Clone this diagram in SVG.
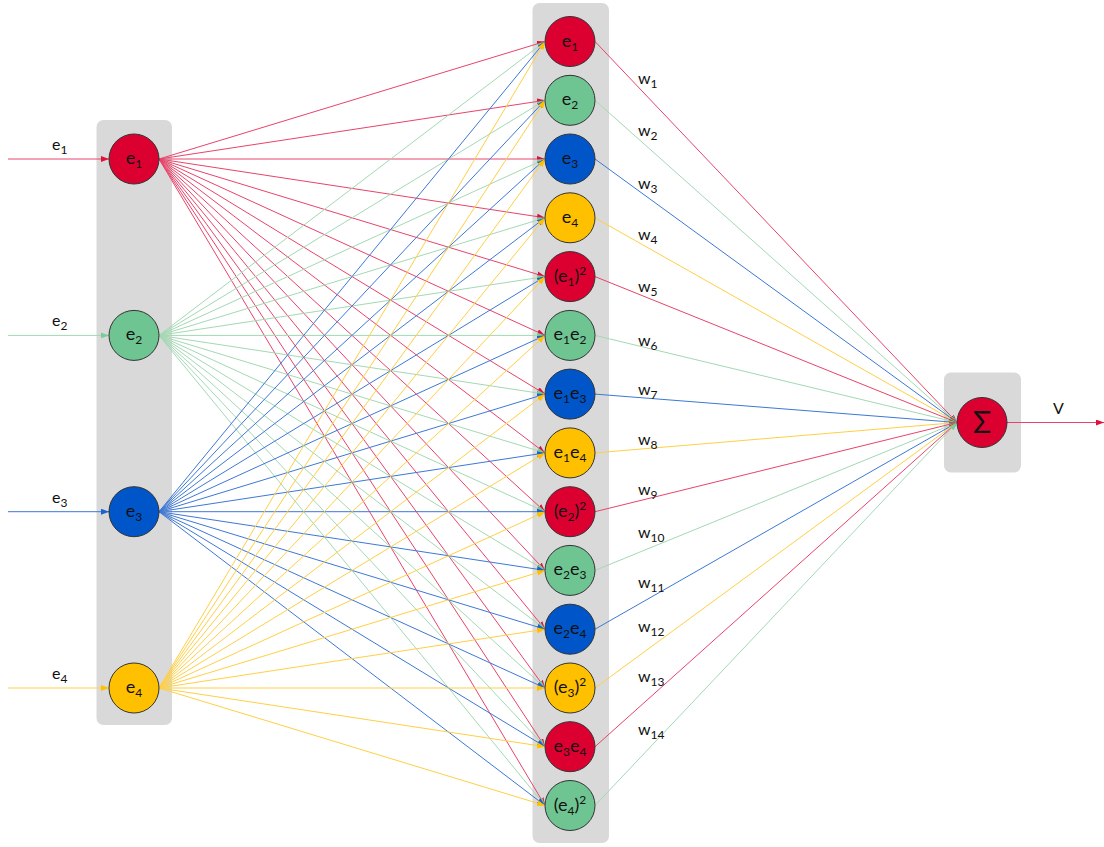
<svg xmlns="http://www.w3.org/2000/svg" width="1104" height="847" viewBox="0 0 1104 847">
  <style>
    text { font-family: Lato, "Open Sans", "Liberation Sans", sans-serif; fill: #111; }
    .box { fill: #D9D9D9; }
    .node { stroke: #333; stroke-width: 1; }
    .fr { fill: #DC0031; }
    .fg { fill: #6EC592; }
    .fb { fill: #0055C8; }
    .fy { fill: #FFC000; }
    .l { fill: none; stroke-width: 1; }
    .lr { stroke: #E8446A; marker-end: url(#ar); }
    .lg { stroke: #A3D9B3; marker-end: url(#ag); }
    .lb { stroke: #3D78D6; marker-end: url(#ab); }
    .ly { stroke: #FFCF45; marker-end: url(#ay); }
    .nl { font-size: 18px; text-anchor: middle; }
    .wl { font-size: 16px; }
    .sub { font-size: 12px; }
  </style>
  <defs>
    <marker id="ar" markerUnits="userSpaceOnUse" markerWidth="8" markerHeight="6" refX="8" refY="3" orient="auto"><path d="M0,0 L8,3 L0,6 z" fill="#E0103C"/></marker>
    <marker id="ag" markerUnits="userSpaceOnUse" markerWidth="8" markerHeight="6" refX="8" refY="3" orient="auto"><path d="M0,0 L8,3 L0,6 z" fill="#7CCB9A"/></marker>
    <marker id="ab" markerUnits="userSpaceOnUse" markerWidth="8" markerHeight="6" refX="8" refY="3" orient="auto"><path d="M0,0 L8,3 L0,6 z" fill="#1A62CF"/></marker>
    <marker id="ay" markerUnits="userSpaceOnUse" markerWidth="8" markerHeight="6" refX="8" refY="3" orient="auto"><path d="M0,0 L8,3 L0,6 z" fill="#FFC000"/></marker>
  </defs>

  <!-- layer containers -->
  <rect class="box" x="96.5" y="120" width="75.5" height="605" rx="7"/>
  <rect class="box" x="532.5" y="3" width="76.5" height="840" rx="7"/>
  <rect class="box" x="944" y="372.5" width="77" height="100" rx="7"/>

  <g id="connectors">
    <!-- inputs -->
    <line class="l lr" x1="8" y1="159" x2="109" y2="159"/>
    <line class="l lg" x1="8" y1="335.4" x2="109" y2="335.4"/>
    <line class="l lb" x1="8" y1="511.7" x2="109" y2="511.7"/>
    <line class="l ly" x1="8" y1="688" x2="109" y2="688"/>

    <!-- e1 to every product node -->
    <g class="l lr">
      <line x1="159" y1="159" x2="545" y2="41.5"/>
      <line x1="159" y1="159" x2="545" y2="100.3"/>
      <line x1="159" y1="159" x2="545" y2="159"/>
      <line x1="159" y1="159" x2="545" y2="217.8"/>
      <line x1="159" y1="159" x2="545" y2="276.6"/>
      <line x1="159" y1="159" x2="545" y2="335.4"/>
      <line x1="159" y1="159" x2="545" y2="394.1"/>
      <line x1="159" y1="159" x2="545" y2="452.9"/>
      <line x1="159" y1="159" x2="545" y2="511.7"/>
      <line x1="159" y1="159" x2="545" y2="570.4"/>
      <line x1="159" y1="159" x2="545" y2="629.2"/>
      <line x1="159" y1="159" x2="545" y2="688"/>
      <line x1="159" y1="159" x2="545" y2="746.7"/>
      <line x1="159" y1="159" x2="545" y2="805.5"/>
    </g>
    <!-- e2 -->
    <g class="l lg">
      <line x1="159" y1="335.4" x2="545" y2="41.5"/>
      <line x1="159" y1="335.4" x2="545" y2="100.3"/>
      <line x1="159" y1="335.4" x2="545" y2="159"/>
      <line x1="159" y1="335.4" x2="545" y2="217.8"/>
      <line x1="159" y1="335.4" x2="545" y2="276.6"/>
      <line x1="159" y1="335.4" x2="545" y2="335.4"/>
      <line x1="159" y1="335.4" x2="545" y2="394.1"/>
      <line x1="159" y1="335.4" x2="545" y2="452.9"/>
      <line x1="159" y1="335.4" x2="545" y2="511.7"/>
      <line x1="159" y1="335.4" x2="545" y2="570.4"/>
      <line x1="159" y1="335.4" x2="545" y2="629.2"/>
      <line x1="159" y1="335.4" x2="545" y2="688"/>
      <line x1="159" y1="335.4" x2="545" y2="746.7"/>
      <line x1="159" y1="335.4" x2="545" y2="805.5"/>
    </g>
    <!-- e3 -->
    <g class="l lb">
      <line x1="159" y1="511.7" x2="545" y2="41.5"/>
      <line x1="159" y1="511.7" x2="545" y2="100.3"/>
      <line x1="159" y1="511.7" x2="545" y2="159"/>
      <line x1="159" y1="511.7" x2="545" y2="217.8"/>
      <line x1="159" y1="511.7" x2="545" y2="276.6"/>
      <line x1="159" y1="511.7" x2="545" y2="335.4"/>
      <line x1="159" y1="511.7" x2="545" y2="394.1"/>
      <line x1="159" y1="511.7" x2="545" y2="452.9"/>
      <line x1="159" y1="511.7" x2="545" y2="511.7"/>
      <line x1="159" y1="511.7" x2="545" y2="570.4"/>
      <line x1="159" y1="511.7" x2="545" y2="629.2"/>
      <line x1="159" y1="511.7" x2="545" y2="688"/>
      <line x1="159" y1="511.7" x2="545" y2="746.7"/>
      <line x1="159" y1="511.7" x2="545" y2="805.5"/>
    </g>
    <!-- e4 -->
    <g class="l ly">
      <line x1="159" y1="688" x2="545" y2="41.5"/>
      <line x1="159" y1="688" x2="545" y2="100.3"/>
      <line x1="159" y1="688" x2="545" y2="159"/>
      <line x1="159" y1="688" x2="545" y2="217.8"/>
      <line x1="159" y1="688" x2="545" y2="276.6"/>
      <line x1="159" y1="688" x2="545" y2="335.4"/>
      <line x1="159" y1="688" x2="545" y2="394.1"/>
      <line x1="159" y1="688" x2="545" y2="452.9"/>
      <line x1="159" y1="688" x2="545" y2="511.7"/>
      <line x1="159" y1="688" x2="545" y2="570.4"/>
      <line x1="159" y1="688" x2="545" y2="629.2"/>
      <line x1="159" y1="688" x2="545" y2="688"/>
      <line x1="159" y1="688" x2="545" y2="746.7"/>
      <line x1="159" y1="688" x2="545" y2="805.5"/>
    </g>

    <!-- weighted terms into the sum -->
    <line class="l lr" x1="595" y1="41.5" x2="957" y2="422.5"/>
    <line class="l lg" x1="595" y1="100.3" x2="957" y2="422.5"/>
    <line class="l lb" x1="595" y1="159" x2="957" y2="422.5"/>
    <line class="l ly" x1="595" y1="217.8" x2="957" y2="422.5"/>
    <line class="l lr" x1="595" y1="276.6" x2="957" y2="422.5"/>
    <line class="l lg" x1="595" y1="335.4" x2="957" y2="422.5"/>
    <line class="l lb" x1="595" y1="394.1" x2="957" y2="422.5"/>
    <line class="l ly" x1="595" y1="452.9" x2="957" y2="422.5"/>
    <line class="l lr" x1="595" y1="511.7" x2="957" y2="422.5"/>
    <line class="l lg" x1="595" y1="570.4" x2="957" y2="422.5"/>
    <line class="l lb" x1="595" y1="629.2" x2="957" y2="422.5"/>
    <line class="l ly" x1="595" y1="688" x2="957" y2="422.5"/>
    <line class="l lr" x1="595" y1="746.7" x2="957" y2="422.5"/>
    <line class="l lg" x1="595" y1="805.5" x2="957" y2="422.5"/>

    <!-- output -->
    <line class="l lr" x1="1007" y1="422.5" x2="1104" y2="422.5"/>
  </g>

  <!-- edge labels -->
  <g id="labels">
    <text class="wl" x="52" y="150">e<tspan class="sub" dy="4">1</tspan></text>
    <text class="wl" x="52" y="326">e<tspan class="sub" dy="4">2</tspan></text>
    <text class="wl" x="52" y="503">e<tspan class="sub" dy="4">3</tspan></text>
    <text class="wl" x="52" y="679">e<tspan class="sub" dy="4">4</tspan></text>
    <text class="wl" x="638" y="84">w<tspan class="sub" dy="4">1</tspan></text>
    <text class="wl" x="638" y="136">w<tspan class="sub" dy="4">2</tspan></text>
    <text class="wl" x="638" y="189">w<tspan class="sub" dy="4">3</tspan></text>
    <text class="wl" x="638" y="240">w<tspan class="sub" dy="4">4</tspan></text>
    <text class="wl" x="638" y="292">w<tspan class="sub" dy="4">5</tspan></text>
    <text class="wl" x="638" y="346">w<tspan class="sub" dy="4">6</tspan></text>
    <text class="wl" x="638" y="395">w<tspan class="sub" dy="4">7</tspan></text>
    <text class="wl" x="638" y="445">w<tspan class="sub" dy="4">8</tspan></text>
    <text class="wl" x="638" y="495">w<tspan class="sub" dy="4">9</tspan></text>
    <text class="wl" x="638" y="538">w<tspan class="sub" dy="4">10</tspan></text>
    <text class="wl" x="638" y="588">w<tspan class="sub" dy="4">11</tspan></text>
    <text class="wl" x="638" y="632">w<tspan class="sub" dy="4">12</tspan></text>
    <text class="wl" x="638" y="682">w<tspan class="sub" dy="4">13</tspan></text>
    <text class="wl" x="638" y="735">w<tspan class="sub" dy="4">14</tspan></text>
    <text class="wl" x="1053" y="414">V</text>
  </g>

  <!-- input layer -->
  <g id="in-e1"><circle class="node fr" cx="134" cy="159" r="25"/><text class="nl" x="134" y="164">e<tspan class="sub" dy="4">1</tspan></text></g>
  <g id="in-e2"><circle class="node fg" cx="134" cy="335.4" r="25"/><text class="nl" x="134" y="340.4">e<tspan class="sub" dy="4">2</tspan></text></g>
  <g id="in-e3"><circle class="node fb" cx="134" cy="511.7" r="25"/><text class="nl" x="134" y="516.7">e<tspan class="sub" dy="4">3</tspan></text></g>
  <g id="in-e4"><circle class="node fy" cx="134" cy="688" r="25"/><text class="nl" x="134" y="693">e<tspan class="sub" dy="4">4</tspan></text></g>

  <!-- polynomial terms -->
  <g id="t-e1"><circle class="node fr" cx="570" cy="41.5" r="25"/><text class="nl" x="570" y="46.5">e<tspan class="sub" dy="4">1</tspan></text></g>
  <g id="t-e2"><circle class="node fg" cx="570" cy="100.3" r="25"/><text class="nl" x="570" y="105.3">e<tspan class="sub" dy="4">2</tspan></text></g>
  <g id="t-e3"><circle class="node fb" cx="570" cy="159" r="25"/><text class="nl" x="570" y="164">e<tspan class="sub" dy="4">3</tspan></text></g>
  <g id="t-e4"><circle class="node fy" cx="570" cy="217.8" r="25"/><text class="nl" x="570" y="222.8">e<tspan class="sub" dy="4">4</tspan></text></g>
  <g id="t-e1sq"><circle class="node fr" cx="570" cy="276.6" r="25"/><text class="nl" x="570" y="281.6">(e<tspan class="sub" dy="4">1</tspan><tspan dy="-4">)</tspan><tspan class="sub" dy="-7">2</tspan></text></g>
  <g id="t-e1e2"><circle class="node fg" cx="570" cy="335.4" r="25"/><text class="nl" x="570" y="340.4">e<tspan class="sub" dy="4">1</tspan><tspan dy="-4">e</tspan><tspan class="sub" dy="4">2</tspan></text></g>
  <g id="t-e1e3"><circle class="node fb" cx="570" cy="394.1" r="25"/><text class="nl" x="570" y="399.1">e<tspan class="sub" dy="4">1</tspan><tspan dy="-4">e</tspan><tspan class="sub" dy="4">3</tspan></text></g>
  <g id="t-e1e4"><circle class="node fy" cx="570" cy="452.9" r="25"/><text class="nl" x="570" y="457.9">e<tspan class="sub" dy="4">1</tspan><tspan dy="-4">e</tspan><tspan class="sub" dy="4">4</tspan></text></g>
  <g id="t-e2sq"><circle class="node fr" cx="570" cy="511.7" r="25"/><text class="nl" x="570" y="516.7">(e<tspan class="sub" dy="4">2</tspan><tspan dy="-4">)</tspan><tspan class="sub" dy="-7">2</tspan></text></g>
  <g id="t-e2e3"><circle class="node fg" cx="570" cy="570.4" r="25"/><text class="nl" x="570" y="575.4">e<tspan class="sub" dy="4">2</tspan><tspan dy="-4">e</tspan><tspan class="sub" dy="4">3</tspan></text></g>
  <g id="t-e2e4"><circle class="node fb" cx="570" cy="629.2" r="25"/><text class="nl" x="570" y="634.2">e<tspan class="sub" dy="4">2</tspan><tspan dy="-4">e</tspan><tspan class="sub" dy="4">4</tspan></text></g>
  <g id="t-e3sq"><circle class="node fy" cx="570" cy="688" r="25"/><text class="nl" x="570" y="693">(e<tspan class="sub" dy="4">3</tspan><tspan dy="-4">)</tspan><tspan class="sub" dy="-7">2</tspan></text></g>
  <g id="t-e3e4"><circle class="node fr" cx="570" cy="746.7" r="25"/><text class="nl" x="570" y="751.7">e<tspan class="sub" dy="4">3</tspan><tspan dy="-4">e</tspan><tspan class="sub" dy="4">4</tspan></text></g>
  <g id="t-e4sq"><circle class="node fg" cx="570" cy="805.5" r="25"/><text class="nl" x="570" y="810.5">(e<tspan class="sub" dy="4">4</tspan><tspan dy="-4">)</tspan><tspan class="sub" dy="-7">2</tspan></text></g>

  <!-- summation -->
  <g id="sum"><circle class="node fr" cx="982" cy="422.5" r="25"/><text x="982" y="433" font-size="30" text-anchor="middle">Σ</text></g>
</svg>
